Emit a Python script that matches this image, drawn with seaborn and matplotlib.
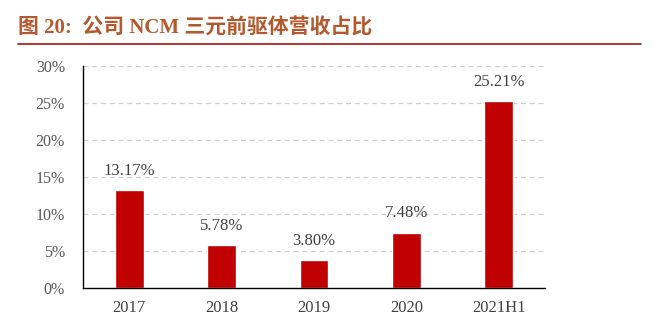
import matplotlib
matplotlib.use("Agg")
import matplotlib.pyplot as plt
import seaborn as sns
import pandas as pd
from matplotlib.lines import Line2D

categories = ["2017", "2018", "2019", "2020", "2021H1"]
values = [13.17, 5.78, 3.80, 7.48, 25.21]
yticks = [0, 5, 10, 15, 20, 25, 30]
title = "图 20:  公司 NCM 三元前驱体营收占比"

sns.set_theme(style="white")
plt.rcParams['font.family'] = ['Liberation Serif', 'Noto Sans CJK SC', 'DejaVu Sans']

df = pd.DataFrame({"cat": categories, "val": values})

fig = plt.figure(figsize=(6.59, 3.31), dpi=100)
ax = fig.add_axes([0.126, 0.130, 0.701, 0.671])
sns.barplot(data=df, x="cat", y="val", color="#c00000", width=0.31, ax=ax, saturation=1)

ax.set_ylim(0, 30)
ax.set_xlim(-0.5, 4.5)
ax.set_yticks(yticks)
ax.set_yticklabels([f"{t}%" for t in yticks], color="#595959", fontsize=11.5)
ax.set_xticks(range(len(categories)))
ax.set_xticklabels(categories, color="#404040", fontsize=12)
ax.tick_params(axis="both", length=0)
ax.tick_params(axis="x", pad=9)
ax.tick_params(axis="y", pad=13)
for t in yticks[1:]:
    ax.axhline(t, color="#d0d0d0", linestyle=(0, (4, 3)), linewidth=0.9, zorder=0)
ax.set_xlabel("")
ax.set_ylabel("")
for s in ["top", "right"]:
    ax.spines[s].set_visible(False)
for s in ["left", "bottom"]:
    ax.spines[s].set_color("black")
    ax.spines[s].set_linewidth(1.0)

for i, v in enumerate(values):
    ax.annotate(f"{v:.2f}%", (i, v), xytext=(0, 8), textcoords="offset points",
                ha="center", va="bottom", fontsize=12, color="#404040")

fig.text(0.027, 0.915, title, color="#b5582e", fontsize=15, fontweight="bold",
         ha="left", va="center")
fig.add_artist(Line2D([0.027, 0.972], [0.868, 0.868], color="#a31515", linewidth=1.2,
                      transform=fig.transFigure))

fig.savefig("out.png", dpi=100)
